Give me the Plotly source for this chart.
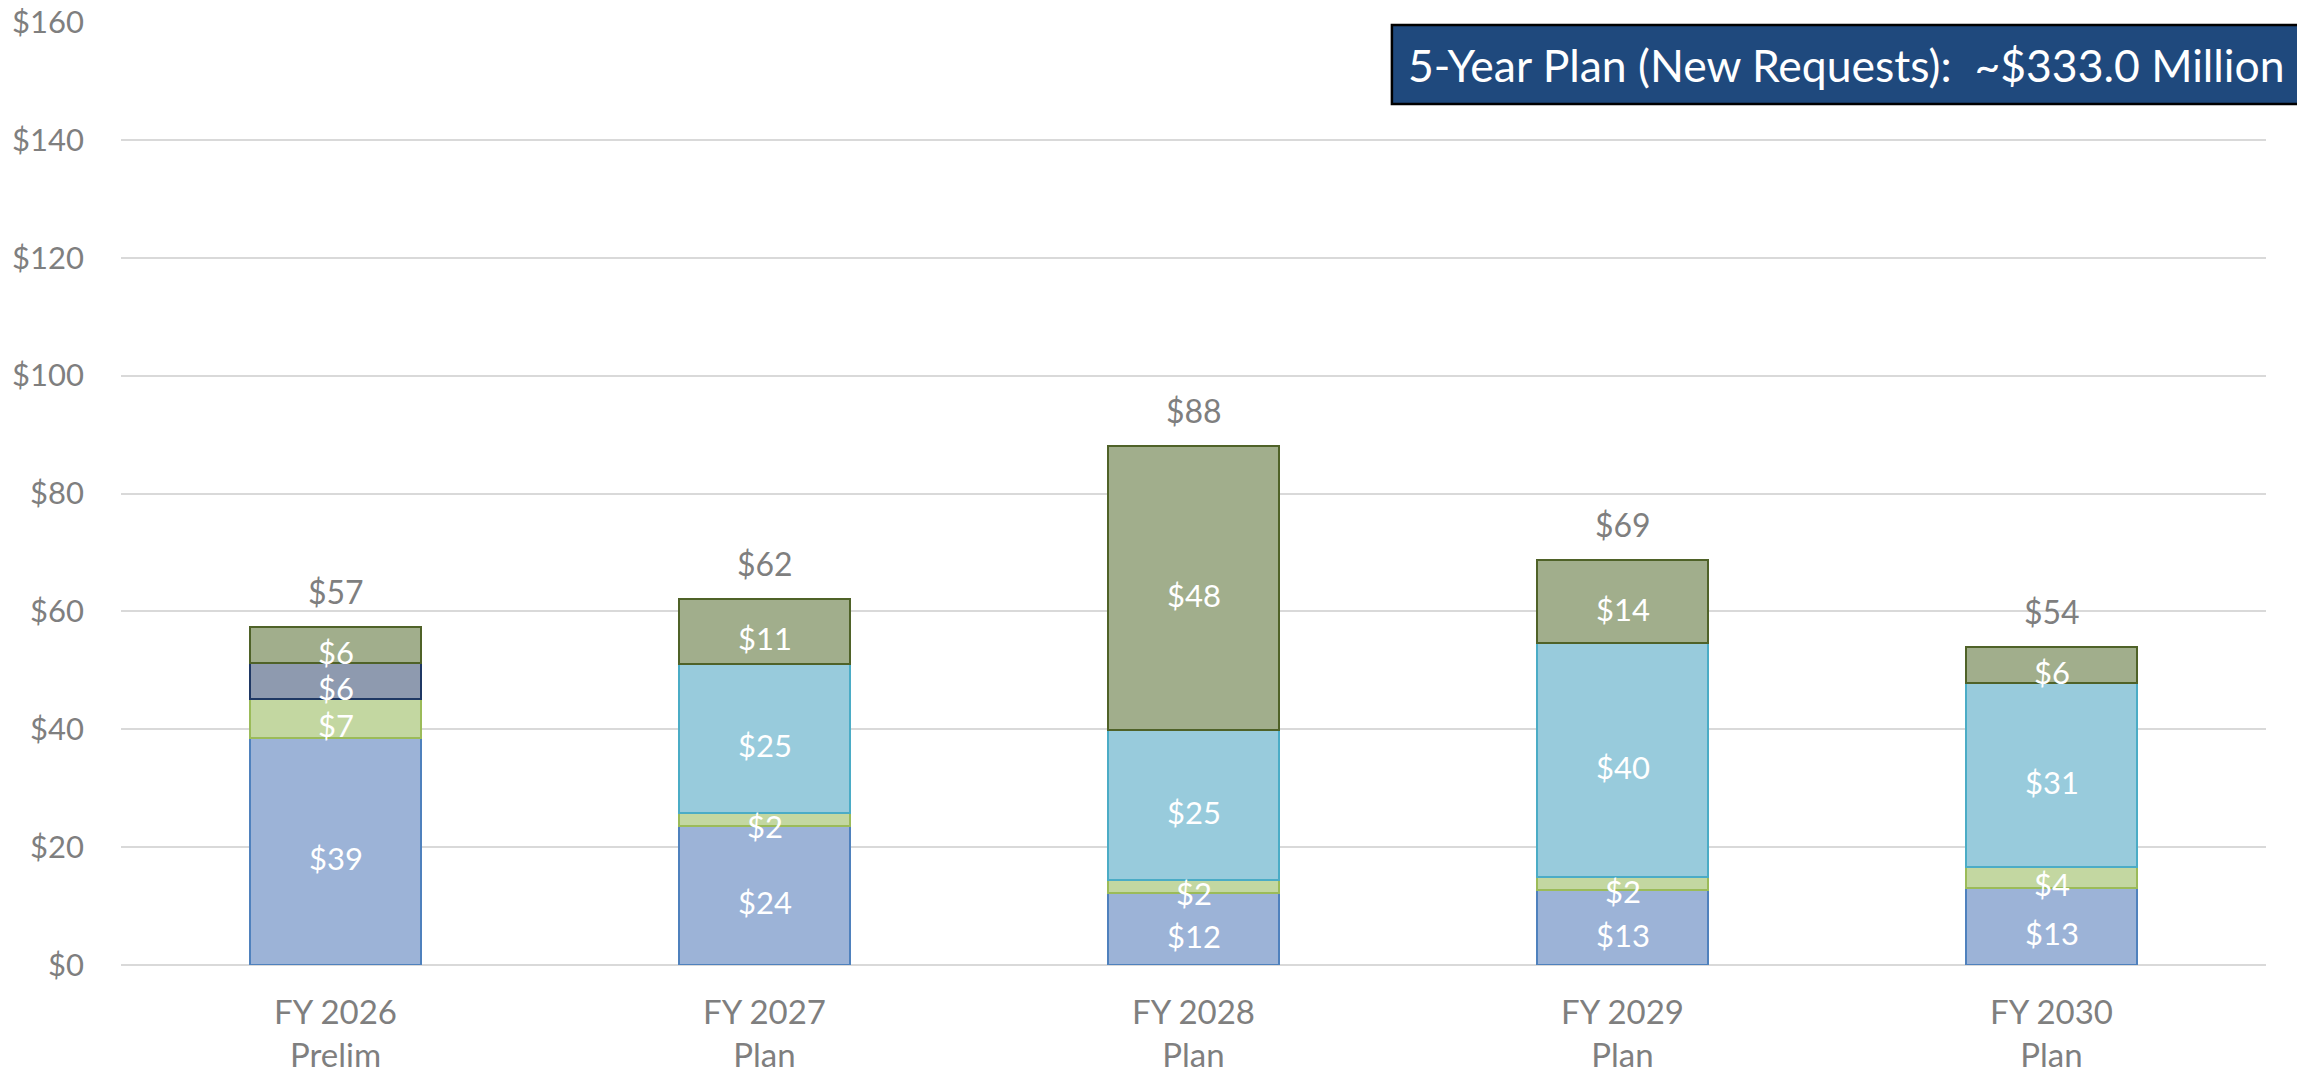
import plotly.graph_objects as go

# data (values in $ millions)
years = ["FY 2026<br>Prelim", "FY 2027<br>Plan", "FY 2028<br>Plan", "FY 2029<br>Plan", "FY 2030<br>Plan"]
blue_vals = [38.6, 23.6, 12.3, 12.7, 13.1]
green_vals = [6.6, 2.2, 2.2, 2.2, 3.6]
slate_vals = [6.0, None, None, None, None]
cyan_vals = [None, 25.3, 25.3, 39.7, 31.1]
olive_vals = [6.2, 11.0, 48.2, 14.1, 6.1]
box_title = "5-Year Plan (New Requests):  ~$333.0 Million"

series = [
    (blue_vals, "#9CB3D7", "#4F81BD"),
    (green_vals, "#C3D7A1", "#9BBB59"),
    (slate_vals, "#8E9AAF", "#1F3864"),
    (cyan_vals, "#98CBDC", "#4BACC6"),
    (olive_vals, "#A1AE8C", "#4F6228"),
]

FONT = "Lato, Open Sans, sans-serif"
GREY = "#7F7F7F"

fig = go.Figure()
for vals, fill, edge in series:
    fig.add_trace(go.Bar(
        x=years, y=vals,
        marker=dict(color=fill, line=dict(color=edge, width=2)),
        hoverinfo="skip",
    ))

# segment labels, drawn above all bars
base = [0.0] * len(years)
for vals, _, _ in series:
    for i, v in enumerate(vals):
        if v:
            fig.add_annotation(
                x=years[i], y=base[i] + v / 2, yshift=-7, showarrow=False,
                text=f"${v:.0f}", font=dict(family=FONT, size=31, color="white"),
            )
            base[i] += v

# totals above bars
for yr, tot in zip(years, base):
    fig.add_annotation(
        x=yr, y=tot, yanchor="bottom", yshift=14, showarrow=False,
        text=f"${tot:.0f}", font=dict(family=FONT, size=32, color=GREY),
    )

fig.update_layout(
    width=2305, height=1074,
    margin=dict(l=113, r=47, t=14, b=117, autoexpand=False),
    barmode="stack", bargap=0.6,
    plot_bgcolor="white", paper_bgcolor="white",
    showlegend=False,
    font=dict(family=FONT, color=GREY, size=31),
)
fig.update_yaxes(
    range=[0, 160], dtick=20, tickprefix="$", automargin=False,
    showgrid=True, gridcolor="#D9D9D9", gridwidth=2,
    zeroline=True, zerolinecolor="#D9D9D9", zerolinewidth=2,
    showline=False, ticks="", ticklabelstandoff=36, ticklabeloverflow="allow",
    tickfont=dict(family=FONT, size=31, color=GREY),
)
fig.update_xaxes(
    showline=False, ticks="", ticklabelstandoff=25, automargin=False,
    tickfont=dict(family=FONT, size=33, color=GREY),
)

# summary box in the top-right corner
fig.add_shape(
    type="rect", xref="paper", yref="paper",
    x0=0.5925, x1=1.0159, y0=0.913, y1=0.9968,
    fillcolor="#1F497D", line=dict(color="black", width=2.5), layer="above",
)
fig.add_annotation(
    xref="paper", yref="paper", x=0.8042, y=0.955,
    xanchor="center", yanchor="middle", showarrow=False,
    text=box_title, font=dict(family=FONT, size=44.5, color="white"),
)

fig.write_html("out.html")
